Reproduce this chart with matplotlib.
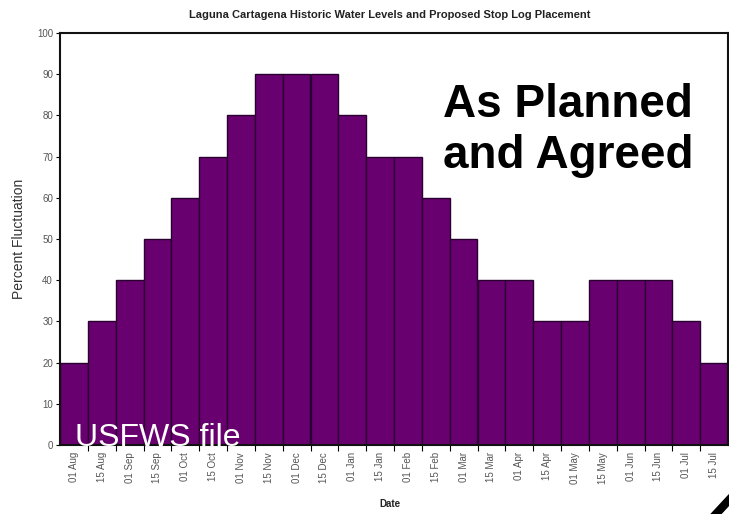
import matplotlib.pyplot as plt
import numpy as np
from matplotlib.lines import Line2D

plt.rcParams['font.family'] = ['Liberation Sans', 'DejaVu Sans']

# half-month stop log schedule
dates = ['01 Aug', '15 Aug', '01 Sep', '15 Sep', '01 Oct', '15 Oct', '01 Nov', '15 Nov',
         '01 Dec', '15 Dec', '01 Jan', '15 Jan', '01 Feb', '15 Feb', '01 Mar', '15 Mar',
         '01 Apr', '15 Apr', '01 May', '15 May', '01 Jun', '15 Jun', '01 Jul', '15 Jul']
fluctuation = [20, 30, 40, 50, 60, 70, 80, 90, 90, 90, 80, 70,
               70, 60, 50, 40, 40, 30, 30, 40, 40, 40, 30, 20]
yticks = list(range(0, 101, 10))

fig = plt.figure(figsize=(7.29, 5.14), dpi=100)
ax = fig.add_axes([60 / 729, 69 / 514, 668 / 729, 412 / 514])

x = np.arange(len(dates))
ax.bar(x + 0.5, fluctuation, width=1.0, color='#690070', edgecolor='#2a0030', linewidth=1.0)

ax.set_xlim(0, len(dates))
ax.set_ylim(0, 100)
ax.set_yticks(yticks)
ax.set_yticklabels([str(t) for t in yticks], fontsize=7, color='#555555')
ax.tick_params(axis='y', length=3, width=0.8, pad=2)

# tick marks on bar edges, labels at bar centres
ax.set_xticks(x[1:], minor=False)
ax.set_xticklabels([])
ax.set_xticks(x + 0.5, minor=True)
ax.set_xticklabels(dates, minor=True, rotation=90, fontsize=7, color='#555555')
ax.tick_params(axis='x', which='major', length=4, width=0.8)
ax.tick_params(axis='x', which='minor', length=0, pad=5)

for s in ax.spines.values():
    s.set_linewidth(1.5)
    s.set_color('#111111')

ax.set_ylabel('Percent Fluctuation', fontsize=10, color='#333333', labelpad=8)
fig.text(0.535, 0.014, 'Date', ha='center', fontsize=7, fontweight='bold', color='#222222')
fig.text(0.535, 0.965, 'Laguna Cartagena Historic Water Levels and Proposed Stop Log Placement',
         ha='center', fontsize=8, fontweight='bold', color='#222222')

fig.text(443 / 729, 1 - 168 / 514, 'As Planned\nand Agreed', ha='left', va='baseline',
         fontsize=33, fontweight='bold', color='black', linespacing=1.22)
fig.text(75 / 729, 1 - 446 / 514, 'USFWS file', ha='left', va='baseline',
         fontsize=23, color='white')

# corner stroke
fig.add_artist(Line2D([716 / 729, 729 / 729], [1 - 514 / 514, 1 - 500 / 514],
                      transform=fig.transFigure, color='black', linewidth=6))

fig.savefig('out.png', dpi=100)
